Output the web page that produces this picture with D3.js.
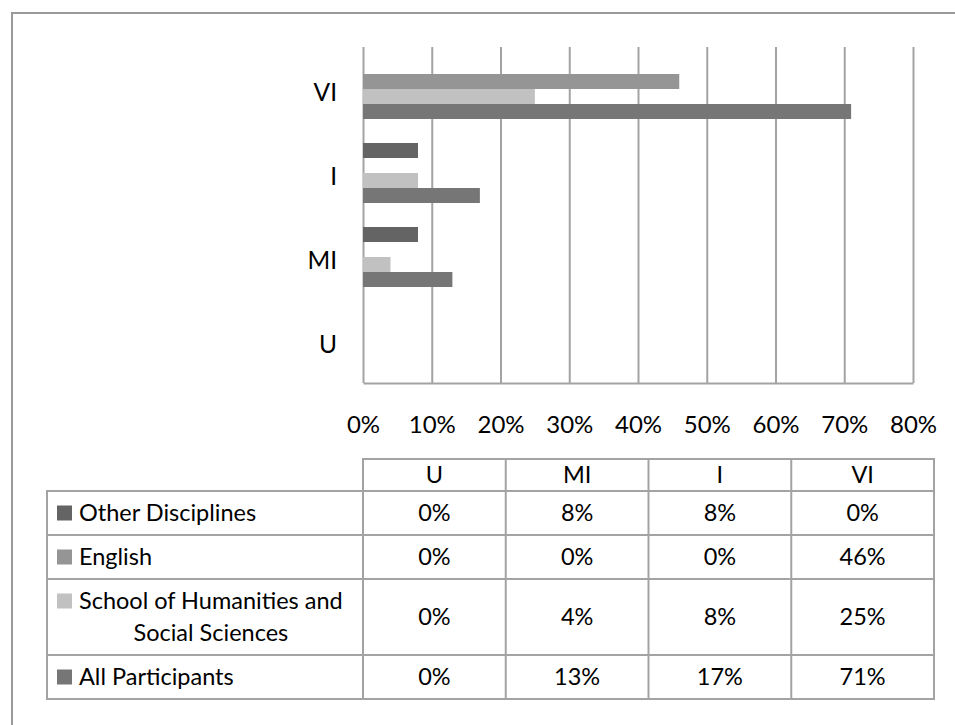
<!DOCTYPE html>
<html><head><meta charset="utf-8">
<script src="https://cdn.jsdelivr.net/npm/d3@7"></script>
<style>
body{margin:0;background:#fff}
text{font-family:Lato, "Open Sans", sans-serif;fill:#000}
</style>
</head><body>
<svg id="c" width="955" height="725"></svg>
<script>
// ---- data ----
const categories = ["U", "MI", "I", "VI"];
const seriesNames = ["Other Disciplines", "English", "School of Humanities and Social Sciences", "All Participants"];
const otherValues = [0, 0.08, 0.08, 0];
const englishValues = [0, 0, 0, 0.46];
const shssValues = [0, 0.04, 0.08, 0.25];
const allValues = [0, 0.13, 0.17, 0.71];
const xTickValues = [0, 0.1, 0.2, 0.3, 0.4, 0.5, 0.6, 0.7, 0.8];

// ---- styles ----
const seriesColors = ["#646464", "#959595", "#c1c1c1", "#767676"];
const lineColor = "#a3a3a3";
const fontSize = 23.5;

const series = seriesNames.map((name, i) => ({
  name, color: seriesColors[i],
  values: [otherValues, englishValues, shssValues, allValues][i]
}));

const svg = d3.select("#c");

// outer border
svg.append("rect").attr("x", 12).attr("y", 13).attr("width", 960).attr("height", 730)
  .attr("fill", "none").attr("stroke", "#9a9a9a").attr("stroke-width", 2);

// ---- scales ----
const plotTop = 47, plotBottom = 383;
const x = d3.scaleLinear().domain([0, 0.8]).range([363, 913]);
const y = d3.scaleBand().domain(categories.slice().reverse())
  .range([plotTop, plotBottom]).paddingInner(2 / 7).paddingOuter(1 / 7);
const ySub = d3.scaleBand().domain(seriesNames).range([0, y.bandwidth()]);

// ---- x axis + gridlines ----
const xAxis = d3.axisBottom(x).tickValues(xTickValues)
  .tickSize(-(plotBottom - plotTop)).tickSizeOuter(0).tickPadding(33)
  .tickFormat(d3.format(".0%"));
const gx = svg.append("g").attr("transform", `translate(0,${plotBottom})`).call(xAxis);
gx.selectAll("line").attr("stroke", lineColor).attr("stroke-width", 2);
gx.select(".domain").attr("stroke", lineColor).attr("stroke-width", 2);
gx.selectAll("text").attr("font-size", fontSize + 0.5).style("font-family", "Lato");

// ---- y axis labels ----
const yAxis = d3.axisLeft(y).tickSize(0).tickPadding(26);
const gy = svg.append("g").attr("transform", `translate(${x(0)},0)`).call(yAxis);
gy.select(".domain").remove();
gy.selectAll("text").attr("font-size", fontSize + 1).attr("dy", "0.5em").style("font-family", "Lato");

// ---- bars ----
const groups = svg.append("g").selectAll("g").data(categories).join("g")
  .attr("transform", c => `translate(0,${y(c)})`);
groups.selectAll("rect")
  .data((c, ci) => series.map(s => ({ s, v: s.values[ci] })))
  .join("rect")
  .attr("x", x(0))
  .attr("y", d => ySub(d.s.name))
  .attr("height", ySub.bandwidth())
  .attr("width", d => x(d.v) - x(0))
  .attr("fill", d => d.s.color);

// ---- data table ----
const colX = d3.scaleBand().domain(categories).range([363, 934]);
const labelLeft = 47;
const headerTop = 459, headerH = 32, rowH = 44, lineH = 32;
const tbl = svg.append("g");
const fmt = d3.format(".0%");

// header
tbl.append("rect").attr("x", colX.range()[0]).attr("y", headerTop)
  .attr("width", colX.range()[1] - colX.range()[0]).attr("height", headerH)
  .attr("fill", "none").attr("stroke", lineColor).attr("stroke-width", 2);
categories.forEach(c => {
  tbl.append("line").attr("x1", colX(c)).attr("x2", colX(c))
    .attr("y1", headerTop).attr("y2", headerTop + headerH)
    .attr("stroke", lineColor).attr("stroke-width", 2);
  tbl.append("text").attr("x", colX(c) + colX.bandwidth() / 2)
    .attr("y", headerTop + headerH / 2).attr("dy", "0.36em")
    .attr("text-anchor", "middle").attr("font-size", fontSize).text(c);
});

// rows
let rowTop = headerTop + headerH;
const textLeft = 79, maxLabelW = 280;
series.forEach(s => {
  // wrap label
  const tmp = tbl.append("text").attr("font-size", fontSize);
  const words = s.name.split(" ");
  const lines = [];
  let cur = "";
  words.forEach(w => {
    const test = cur ? cur + " " + w : w;
    tmp.text(test);
    if (tmp.node().getComputedTextLength() > maxLabelW && cur) { lines.push(cur); cur = w; }
    else cur = test;
  });
  lines.push(cur);
  tmp.remove();
  const h = rowH + (lines.length - 1) * lineH;

  tbl.append("rect").attr("x", labelLeft).attr("y", rowTop)
    .attr("width", colX.range()[1] - labelLeft).attr("height", h)
    .attr("fill", "none").attr("stroke", lineColor).attr("stroke-width", 2);
  categories.forEach(c => {
    tbl.append("line").attr("x1", colX(c)).attr("x2", colX(c))
      .attr("y1", rowTop).attr("y2", rowTop + h)
      .attr("stroke", lineColor).attr("stroke-width", 2);
  });

  const firstBase = rowTop + rowH / 2;
  tbl.append("rect").attr("x", 57).attr("y", firstBase - 7.5)
    .attr("width", 15).attr("height", 15).attr("fill", s.color);

  const t = tbl.append("text").attr("font-size", fontSize);
  let widest = 0;
  lines.forEach(l => { t.text(l); widest = Math.max(widest, t.node().getComputedTextLength()); });
  t.text(null);
  if (lines.length === 1) {
    t.attr("x", textLeft).attr("y", firstBase).attr("dy", "0.36em").text(lines[0]);
  } else {
    t.attr("text-anchor", "middle");
    lines.forEach((l, i) => {
      t.append("tspan").attr("x", textLeft + widest / 2)
        .attr("y", firstBase + i * lineH).attr("dy", "0.36em").text(l);
    });
  }

  categories.forEach((c, ci) => {
    tbl.append("text").attr("x", colX(c) + colX.bandwidth() / 2)
      .attr("y", rowTop + h / 2).attr("dy", "0.36em")
      .attr("text-anchor", "middle").attr("font-size", fontSize)
      .text(fmt(s.values[ci]));
  });
  rowTop += h;
});
</script>
</body></html>
